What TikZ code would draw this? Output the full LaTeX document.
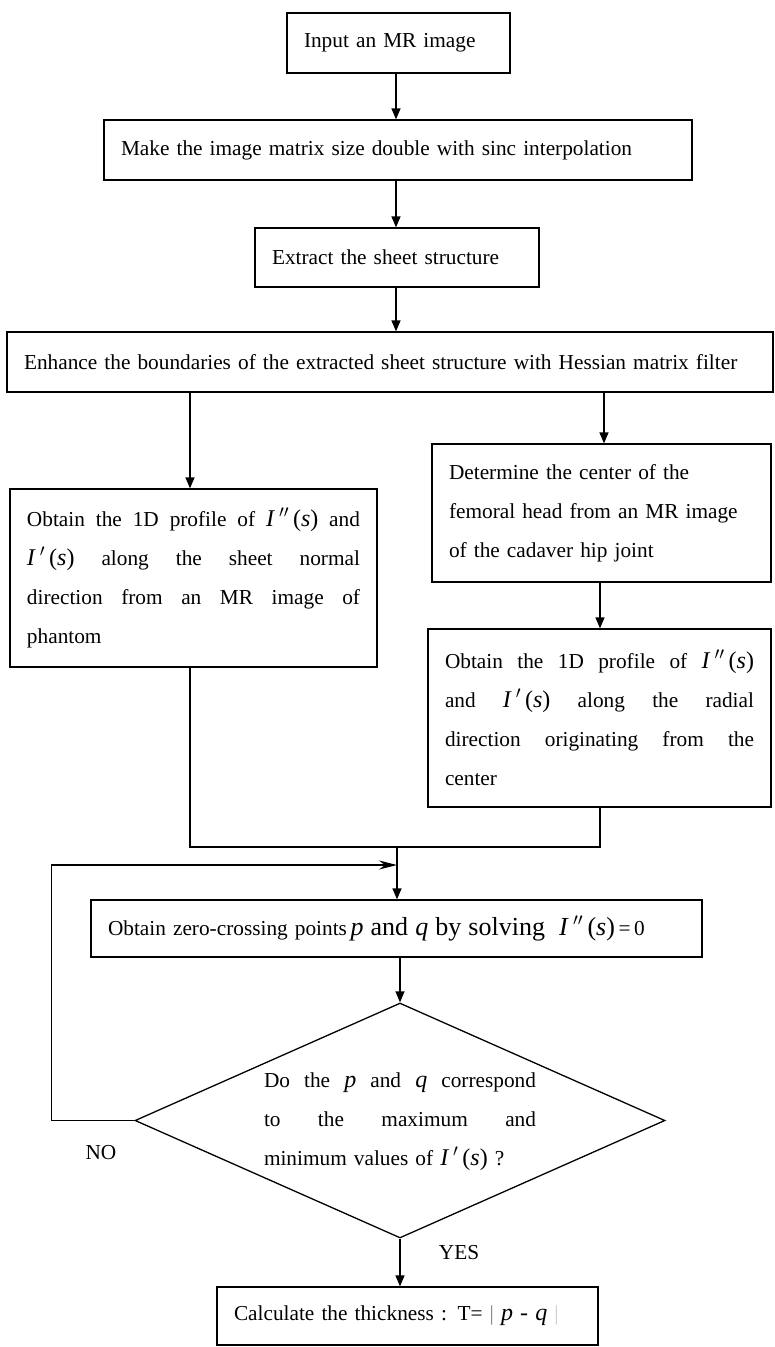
\documentclass[tikz,border=0pt]{standalone}
\usepackage{fontspec}
\setmainfont{Liberation Serif}
\usetikzlibrary{arrows.meta,shapes.geometric}
\newcommand{\fsz}{\fontsize{21.3}{39}\selectfont}
\newcommand{\bigsz}{\fontsize{24}{39}\selectfont}
\newcommand{\biggsz}{\fontsize{26}{39}\selectfont}
\newcommand{\Ipp}{{\bigsz\textit{I}\,$^{\prime\prime}$\,(\textit{s})}}
\newcommand{\Ip}{{\bigsz\textit{I}\,$^{\prime}$\,(\textit{s})}}
\newcommand{\jline}[2]{\makebox[#1][s]{\spaceskip=0.25em plus 1fil\relax #2}}
\begin{document}
\begin{tikzpicture}[x=1pt,y=-1pt,
  box/.style={draw, line width=1.3pt, inner xsep=17pt, inner ysep=0pt, align=left, font=\fsz},
  arr/.style={line width=1.3pt, -{Triangle[length=11pt,width=9pt]}},
  ln/.style={line width=1.3pt},
  lbl/.style={font=\fsz, inner sep=0pt}]
\useasboundingbox (0,0) rectangle (775,1347);
\fill[white] (0,0) rectangle (775,1347);

\coordinate (ax) at (396,0);
\coordinate (xL) at (190,0);
\coordinate (xRa) at (604,0);
\coordinate (xR) at (600,0);
\coordinate (jn) at (397,847);
\coordinate (lp) at (397,865);

\node[box, text width=189pt, minimum height=60pt] (inp) at (398.5,43) {Input an MR image};
\node[box, text width=554pt, minimum height=60pt] (mk) at (398,150) {\mbox{Make the image matrix size double with sinc interpolation}};
\node[box, text width=250pt, minimum height=59pt] (ext) at (397,257.5) {Extract the sheet structure};
\node[box, text width=732pt, minimum height=60pt] (enh) at (390,362) {\mbox{Enhance the boundaries of the extracted sheet structure with Hessian matrix filter}};

\node[box, text width=333pt, minimum height=178pt] (lb) at (193.5,578) {%
\jline{333pt}{Obtain the 1D profile of \Ipp{} and}\\
\jline{333pt}{\Ip{} along the sheet normal}\\
\jline{333pt}{direction from an MR image of}\\
phantom};

\node[box, text width=305pt, minimum height=138pt] (rb1) at (601.5,513) {%
Determine the center of the\\
femoral head from an MR image\\
of the cadaver hip joint};

\node[box, text width=309pt, minimum height=178pt] (rb2) at (599.5,718) {%
\jline{309pt}{Obtain the 1D profile of \Ipp}\\
\jline{309pt}{and \Ip{} along the radial}\\
\jline{309pt}{direction originating from the}\\
center};

\node[box, text width=577pt, minimum height=57pt] (zc) at (396.5,928.5) {\mbox{Obtain zero-crossing points\,{\biggsz\textit{p} and \textit{q} by solving} \ {\biggsz\textit{I}\,$^{\prime\prime}$\,(\textit{s})}\,=\,0}};

\node[diamond, draw, line width=1.3pt, minimum width=530pt, minimum height=235pt, inner sep=0pt] (dia) at (400,1120.5) {};
\node[font=\fsz, text width=272pt, align=left, inner sep=0pt] (diat) at (400,1121.5) {%
\jline{272pt}{Do the {\bigsz\textit{p}} and {\bigsz\textit{q}} correspond}\\
\jline{272pt}{to the maximum and}\\
minimum values of \Ip{} ?};

\node[box, text width=347pt, minimum height=58pt] (fin) at (407.5,1316) {\mbox{Calculate the thickness : T= {\color{gray}|} {\bigsz\textit{p} - \textit{q}} {\color{gray!40}|}}};

\node[lbl] (no) at (101,1153) {NO};
\node[lbl] (yes) at (459,1253) {YES};

\draw[arr] (inp.south -| ax) -- (mk.north -| ax);
\draw[arr] (mk.south -| ax) -- (ext.north -| ax);
\draw[arr] (ext.south -| ax) -- (enh.north -| ax);
\draw[arr] (enh.south -| xL) -- (lb.north -| xL);
\draw[arr] (enh.south -| xRa) -- (rb1.north -| xRa);
\draw[arr] (rb1.south -| xR) -- (rb2.north -| xR);
\draw[ln] (lb.south -| xL) -- (jn -| xL) -- (jn -| xR) -- (rb2.south -| xR);
\draw[arr] (jn) -- (zc.north -| jn);
\draw[arr] (zc.south -| dia.north) -- (dia.north);
\draw[ln, -{Stealth[length=18pt,width=9pt,inset=6pt]}] (dia.west) -- ++(-83,0) |- (lp);
\draw[arr] (dia.south) -- (fin.north -| dia.south);
\end{tikzpicture}
\end{document}
